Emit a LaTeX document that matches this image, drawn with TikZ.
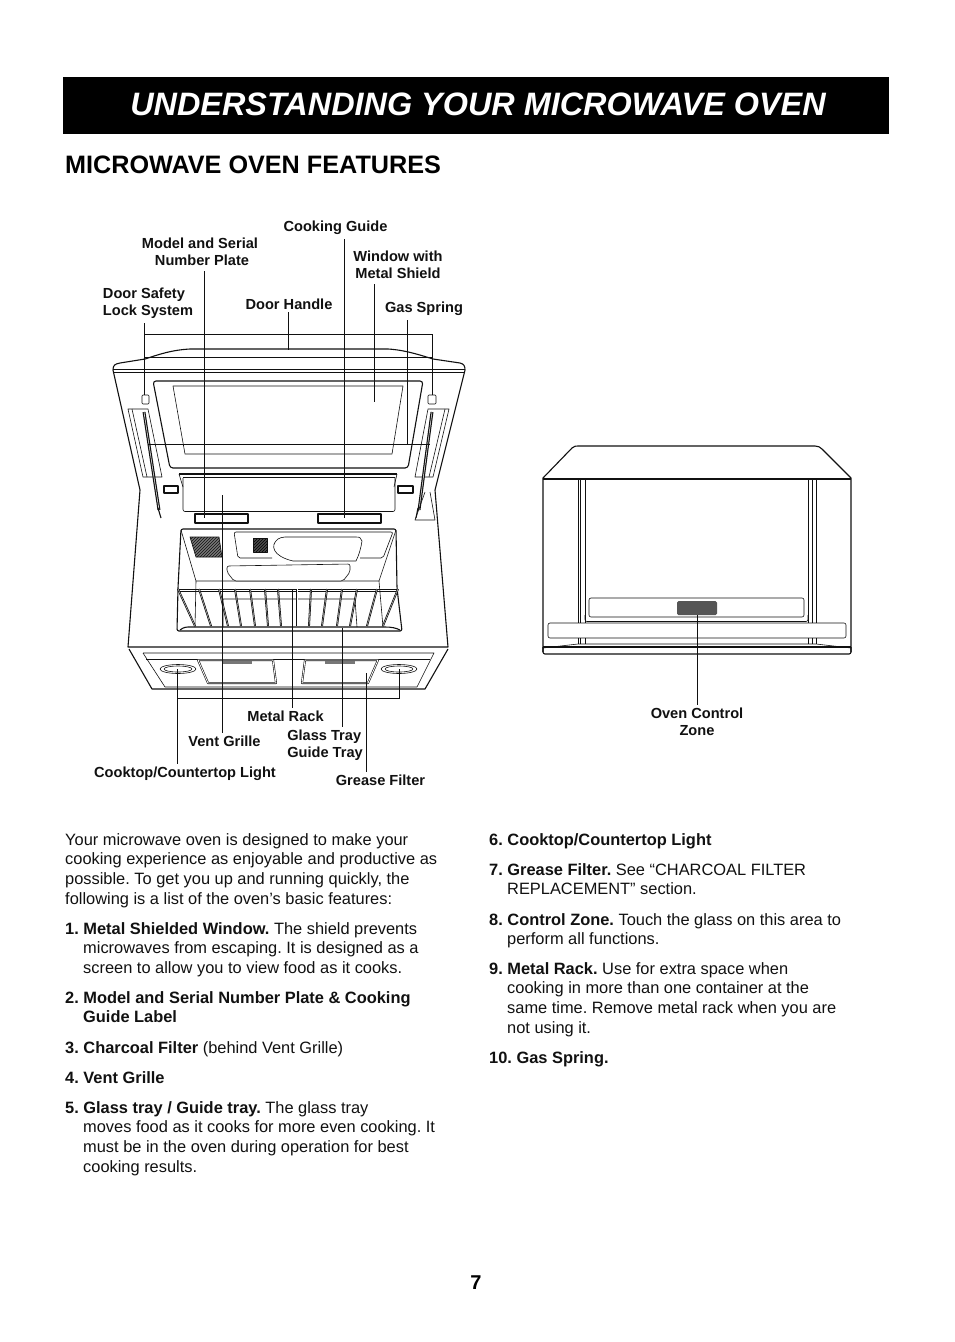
\documentclass[tikz,border=0pt]{standalone}
\usepackage{fontspec}
\setmainfont{Liberation Sans}
\usetikzlibrary{positioning, calc, patterns}
\definecolor{ovenInk}{HTML}{111111}
\definecolor{ovenZone}{HTML}{555555}
\tikzset{
	partlabel/.style={font=\fontsize{14.6}{17.3}\selectfont\bfseries, align=center, inner sep=0pt, outer sep=3pt, text=ovenInk},
	toplabel/.style={partlabel, outer sep=5pt},
	bodytext/.style={font=\fontsize{16.4}{19.7}\selectfont\frenchspacing, align=left, inner sep=0pt, anchor=north west, text=ovenInk},
	leader/.style={draw=ovenInk, line width=1pt},
	outline/.style={draw=ovenInk, line width=1.1pt, line join=round},
	thin outline/.style={draw=ovenInk, line width=.6pt, line join=round},
	wire/.style={draw=ovenInk, line width=1.2pt, double=white, double distance=.5pt},
}
\begin{document}
\begin{tikzpicture}[x=1pt, y=-1pt]
	\useasboundingbox (0,0) rectangle (954,1342);
	\fill[white] (0,0) rectangle (954,1342);
	% heading
	\fill[black] (63,77) rectangle (889,134);
	\node[font=\fontsize{32.4}{36}\selectfont\bfseries\itshape, text=white, inner sep=0pt] (title) at (478,104) {UNDERSTANDING YOUR MICROWAVE OVEN};
	\node[font=\fontsize{25.2}{30}\selectfont\bfseries, anchor=west, inner sep=0pt] (subtitle) at (65,165) {MICROWAVE OVEN FEATURES};

	% door
	\draw[outline] (113,370) .. controls (113,365) and (115,364) .. (120,363) -- (145,359) .. controls (160,354) and (172,350) .. (190,349) -- (388,349) .. controls (405,350) and (420,355) .. (433,359) -- (460,363) .. controls (464,364) and (465,366) .. (465,370) -- (435,490);
	\draw[outline] (113,370) -- (140,490) -- (128,647) -- (448,647) -- (435,490);
	\draw[thin outline] (145,357) -- (432,357);
	\draw[thin outline] (113,369) -- (465,369) (114,372) -- (464,372);
	\draw[outline, rounded corners=3pt] (153,381) -- (423,381) -- (408,468) -- (170,468) -- cycle;
	\draw[thin outline] (173,386) -- (403,386) -- (392,454) -- (185,454) -- cycle;
	% latches, spring panels, hinges
	\draw[thin outline, rounded corners=1pt] (142,395) rectangle (149,404);
	\draw[thin outline, rounded corners=1pt] (428,395) rectangle (436,404);
	\draw[thin outline] (128,409) -- (148,409) -- (162,477) -- (143,477) -- cycle;
	\draw[thin outline] (132,409) -- (147,477);
	\draw[thin outline] (428,409) -- (449,409) -- (433,477) -- (415,477) -- cycle;
	\draw[thin outline] (445,409) -- (429,477);
	\draw[wire] (144,412) -- (159,510);
	\draw[wire] (432,412) -- (419,510);
	\draw[outline] (158,508) -- (161,518);
	\draw[outline] (418,508) -- (416,518);
	\draw[thin outline] (425,492) -- (415,520) -- (435,520) -- (430,492);
	\draw[outline, fill=white] (164,486) rectangle (178,493);
	\draw[outline, fill=white] (398,486) rectangle (413,493);
	% vent grille and plates
	\draw[outline] (179,474) -- (397,474);
	\draw[thin outline, rounded corners=2pt] (183,478) -- (183,511.5) -- (395,511.5) -- (395,478);
	\draw[thin outline] (179,474) -- (183,487) (397,474) -- (394,487) (183,477.5) -- (395,477.5);
	\draw[outline] (195,514) rectangle (248,523);
	\draw[outline] (318,514) rectangle (381,523);
	% cavity
	\draw[outline, rounded corners=2pt] (181,529) -- (396,529) -- (397,588) -- (402,631) -- (177,631) -- (178,588) -- cycle;
	\draw[thin outline] (181,530) -- (196,581) -- (379,581) -- (396,530);
	\draw[thin outline] (196,581) -- (195,627) (379,581) -- (383,627);
	\draw[thin outline] (223,627) -- (223,599) -- (355,599) -- (357,627);
	\draw[outline] (180,630) .. controls (184,627) and (186,627) .. (190,627) -- (385,627) .. controls (392,627) and (396,628) .. (400,630);
	\draw[thin outline, preaction={fill=ovenZone!80}, pattern=north east lines, pattern color=ovenInk] (190,537) -- (219,537) -- (222,557) -- (196,557) -- cycle;
	\draw[thin outline, preaction={fill=ovenInk!75}, pattern=north east lines, pattern color=black] (253,538) rectangle (267,552);
	\draw[thin outline, rounded corners=2pt] (272,558) -- (238,558) -- (234,532) -- (393,532) -- (383,558) -- (360,558);
	\draw[thin outline, fill=white] (278,539) .. controls (270,545) and (272,556) .. (293,561) -- (356,561) .. controls (359,555) and (361,548) .. (362,541) .. controls (361,538) and (360,537) .. (356,537) -- (285,537) .. controls (282,537) and (280,538) .. (278,539);
	\draw[thin outline, fill=white, rounded corners=2pt] (227,566) -- (350,564) -- (350,572) -- (343,581) -- (234,581) -- (227,572) -- cycle;
	\draw[thin outline] (178,589) -- (398,589) (178,591) -- (398,591);
	\foreach \topx/\botx in {178/195, 199/211, 219/228, 235/241, 250/255, 265/268, 278/281, 297/297, 311/309, 327/322, 342/337, 357/350, 377/367, 398/383}{
		\draw[draw=ovenInk, line width=.8pt, double=white, double distance=.3pt] (\topx,589) -- (\botx,626);
	}
	% lower front
	\draw[outline] (129,649) -- (152,689) -- (425,689) -- (448,649);
	\draw[thin outline] (143,653) -- (434,653) -- (417,687);
	\draw[thin outline] (143,653) -- (165,687) -- (417,687);
	\draw[thin outline] (146,659) -- (430,659);
	\draw[thin outline] (178,669) ellipse (18 and 4.5);
	\draw[thin outline] (178,669) ellipse (14 and 3);
	\draw[thin outline] (399,669) ellipse (18 and 4.5);
	\draw[thin outline] (399,669) ellipse (14 and 3);
	\draw[thin outline, double=white, double distance=.8pt] (198,660) -- (273,660) -- (276,683) -- (208,683) -- cycle;
	\draw[thin outline, double=white, double distance=.8pt] (305,660) -- (378,660) -- (368,683) -- (302,683) -- cycle;
	\draw[line width=3pt, ovenZone!80] (223,662.5) -- (252,662.5) (325,662.5) -- (355,662.5);

	% side view
	\draw[outline] (543,652) -- (543,478) -- (572,448) .. controls (574,446) and (576,446) .. (578,446) -- (815,446) .. controls (818,446) and (820,447) .. (822,449) -- (851,478) -- (851,652);
	\draw[outline, rounded corners=2pt] (543,647) -- (543,654) -- (851,654) -- (851,647);
	\draw[outline] (543,479) -- (851,479);
	\draw[outline] (543,647) -- (851,647);
	\draw[thin outline] (543,648) -- (578,644) -- (816,644) -- (851,648);
	\foreach \sidex in {578,580,585,808,812,816}{
		\draw[thin outline] (\sidex,480) -- (\sidex,623);
		\draw[thin outline] (\sidex,638) -- (\sidex,644);
	}
	\draw[thin outline, rounded corners=2pt] (585,615) -- (585,621.5) -- (808,621.5) -- (808,615);
	\draw[thin outline, rounded corners=2pt] (589,598) rectangle (804,617);
	\draw[thin outline, rounded corners=2pt] (548,623) rectangle (846,638);
	\node[fill=ovenZone, rounded corners=1.5pt, minimum width=40pt, minimum height=14pt, inner sep=0pt] (zone) at (697,608) {};

	% part labels
	\node[toplabel] (cookguide) at (335.5,227.5) {Cooking Guide};
	\node[toplabel] (plate) at (200,252) {Model and Serial\\ \ Number Plate};
	\node[toplabel] (window) at (398,265) {Window with\\Metal Shield};
	\node[toplabel, align=left] (safety) at (148,303) {Door Safety\\Lock System};
	\node[partlabel] (handle) at (289,304) {Door Handle};
	\node[toplabel] (spring) at (424,308.5) {Gas Spring};
	\node[partlabel] (rack) at (285.5,716) {Metal Rack};
	\node[partlabel] (vent) at (224.5,741) {Vent Grille};
	\node[partlabel, align=left] (tray) at (325,745) {Glass Tray\\Guide Tray};
	\node[partlabel] (light) at (185,773.5) {Cooktop/Countertop Light};
	\node[partlabel] (filter) at (380.5,780) {Grease Filter};
	\node[partlabel] (control) at (697,722) {Oven Control\\Zone};

	% leaders
	\coordinate (latchL) at (144,395);
	\coordinate (latchR) at (432,395);
	\coordinate (latchMid) at (144,334);
	\coordinate (handleEnd) at (288.5,350);
	\coordinate (plateEnd) at (204.5,518);
	\coordinate (guideEnd) at (344.5,518);
	\coordinate (windowEnd) at (374,402);
	\coordinate (springDrop) at (407,444);
	\coordinate (springL) at (148,444);
	\coordinate (springR) at (430,444);
	\coordinate (ventEnd) at (222,495);
	\coordinate (lightL) at (177,669);
	\coordinate (lightR) at (399,669);
	\coordinate (lightMid) at (177,698);
	\coordinate (rackEnd) at (292,590);
	\coordinate (trayEnd) at (342,628);
	\coordinate (filterEnd) at (366,673);
	\draw[leader] (safety.south -| latchL) -- (latchL);
	\draw[leader] (latchMid) -- (latchMid -| latchR) -- (latchR);
	\draw[leader] (handle.south -| handleEnd) -- (handleEnd);
	\draw[leader] (plate.south -| plateEnd) -- (plateEnd);
	\draw[leader] (cookguide.south -| guideEnd) -- (guideEnd);
	\draw[leader] (window.south -| windowEnd) -- (windowEnd);
	\draw[leader] (spring.south -| springDrop) -- (springDrop);
	\draw[leader] (springL) -- (springR);
	\draw[leader] (vent.north -| ventEnd) -- (ventEnd);
	\draw[leader] (light.north -| lightL) -- (lightL);
	\draw[leader] (lightMid) -- (lightMid -| lightR) -- (lightR);
	\draw[leader] (rack.north -| rackEnd) -- (rackEnd);
	\draw[leader] (tray.north -| trayEnd) -- (trayEnd);
	\draw[leader] (filter.north -| filterEnd) -- (filterEnd);
	\draw[leader] (zone.south) -- (control.north);

	% text columns
	\node[bodytext] (intro) at (65,833) {Your microwave oven is designed to make your\\cooking experience as enjoyable and productive as\\possible. To get you up and running quickly, the\\following is a list of the oven’s basic features:};
	\node[bodytext] (one) at (65,922) {\textbf{1. Metal Shielded Window.} The shield prevents\\\hspace*{18pt}microwaves from escaping. It is designed as a\\\hspace*{18pt}screen to allow you to view food as it cooks.};
	\node[bodytext] (two) at (65,991) {\textbf{2. Model and Serial Number Plate \& Cooking}\\\hspace*{18pt}\textbf{Guide Label}};
	\node[bodytext] (three) at (65,1041) {\textbf{3. Charcoal Filter} (behind Vent Grille)};
	\node[bodytext] (four) at (65,1071) {\textbf{4. Vent Grille}};
	\node[bodytext] (five) at (65,1101) {\textbf{5. Glass tray / Guide tray.} The glass tray\\\hspace*{18pt}moves food as it cooks for more even cooking. It\\\hspace*{18pt}must be in the oven during operation for best\\\hspace*{18pt}cooking results.};
	\node[bodytext] (six) at (489,833) {\textbf{6. Cooktop/Countertop Light}};
	\node[bodytext] (seven) at (489,863) {\textbf{7. Grease Filter.} See “CHARCOAL FILTER\\\hspace*{18pt}REPLACEMENT” section.};
	\node[bodytext] (eight) at (489,913) {\textbf{8. Control Zone.} Touch the glass on this area to\\\hspace*{18pt}perform all functions.};
	\node[bodytext] (nine) at (489,962) {\textbf{9. Metal Rack.} Use for extra space when\\\hspace*{18pt}cooking in more than one container at the\\\hspace*{18pt}same time. Remove metal rack when you are\\\hspace*{18pt}not using it.};
	\node[bodytext] (ten) at (489,1051) {\textbf{10. Gas Spring.}};
	\node[font=\fontsize{20}{24}\selectfont\bfseries, inner sep=0pt] (pagenum) at (476,1283) {7};
\end{tikzpicture}
\end{document}
